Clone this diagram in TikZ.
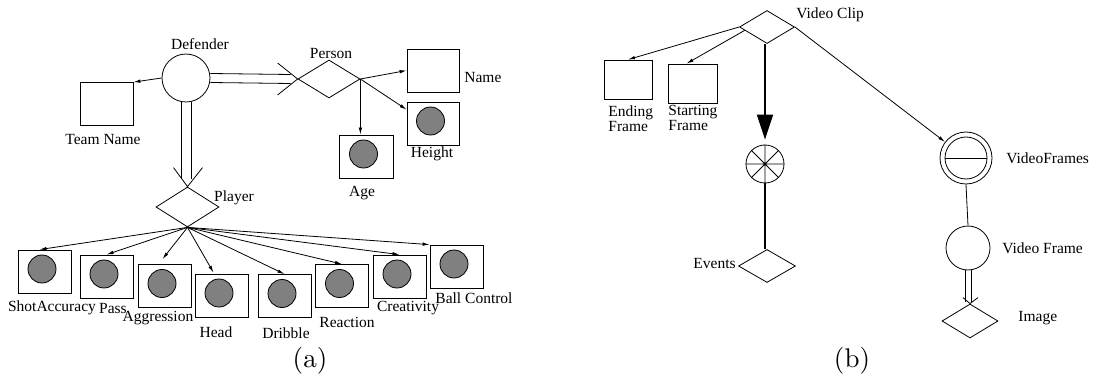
\documentclass[tikz,border=0pt]{standalone}
\usepackage{fontspec}
\newfontfamily\tms{Liberation Serif}
\newfontfamily\lmten{lmroman10-regular.otf}
\usetikzlibrary{shapes.geometric,arrows.meta,calc,backgrounds}
\begin{document}
\begin{tikzpicture}[x=1pt,y=-1pt,line width=0.8pt,
  lbl/.style={font={\tms\fontsize{15.5}{15}\selectfont},inner sep=0pt},
  subcap/.style={font={\lmten\fontsize{27}{27}\selectfont},inner sep=0pt},
  ent/.style={draw,rectangle,minimum width=53pt,minimum height=43pt,inner sep=0pt},
  attr/.style={ent,path picture={\draw[fill=black!50]
      ([xshift=-2.5pt,yshift=2.5pt]path picture bounding box.center) circle (14pt);}},
  rel/.style={draw,diamond,inner sep=0pt},
  arr/.style={-{Latex[length=7pt,width=3.5pt]}}]
\useasboundingbox (0,0) rectangle (1093,385);

% ---------- (a) Defender schema ----------
\node[circle,draw,minimum size=48pt,inner sep=0pt] (def) at (186,78) {};
\node[lbl] (defl) at (200,44) {Defender};
\node[ent] (team) at (106.5,104) {};
\node[lbl] (teaml) at (103,140) {Team Name};

\node[rel,minimum width=62pt,minimum height=38pt] (person) at (329,79) {};
\node[lbl] (personl) at (331,54) {Person};
\node[ent,minimum width=52pt] (name) at (433,70.5) {};
\node[lbl,anchor=west] (namel) at (464,78) {Name};
\node[attr,minimum width=52pt] (height) at (433,123.5) {};
\node[lbl] (heightl) at (432,154) {Height};
\node[attr,minimum width=54pt] (age) at (366,156.5) {};
\node[lbl] (agel) at (362,193) {Age};

\node[rel,minimum width=63pt,minimum height=40pt] (player) at (187.5,207) {};
\node[lbl] (playerl) at (234,198) {Player};

\node[attr] (sa) at (44.5,271.5) {};
\node[attr] (pass) at (106.5,276.5) {};
\node[attr] (agg) at (164.5,286) {};
\node[attr] (head) at (221.5,295.5) {};
\node[attr] (drib) at (284.5,296) {};
\node[attr] (react) at (342,286) {};
\node[attr] (creat) at (399.5,276.5) {};
\node[attr] (ball) at (456.5,266.5) {};
\node[lbl] (sal) at (52,308) {ShotAccuracy};
\node[lbl] (passl) at (113,308) {Pass};
\node[lbl] (aggl) at (158,318) {Aggression};
\node[lbl] (headl) at (216,332) {Head};
\node[lbl] (dribl) at (286,333) {Dribble};
\node[lbl] (reactl) at (347,322) {Reaction};
\node[lbl] (creatl) at (408,308) {Creativity};
\node[lbl] (balll) at (474,298) {Ball Control};

% double (total participation) links with open chevron heads
\draw ($(def.east)+(0,-4.5)$) -- ($(person.west)+(-7,-4.5)$)
      ($(def.east)+(0,4.5)$) -- ($(person.west)+(-7,4.5)$);
\draw (person.west) -- ++(-20,-16) (person.west) -- ++(-20,16);
\draw ($(def.south)+(-5,0)$) -- ($(def.south |- player.north)+(-5,-8)$)
      ($(def.south)+(5,0)$) -- ($(def.south |- player.north)+(5,-8)$);
\draw (player.north) -- ++(-14,-19) (player.north) -- ++(15,-19);

\draw[arr] (def.west) -- (team.north east);
\draw[arr] (person.east) -- (name.west);
\draw[arr] (person.east) -- ($(height.north west)+(0,8)$);
\draw[arr] (person.east) -- (person.east |- age.north);

\draw[arr] (player.south) -- ($(sa.north)+(-5,0)$);
\draw[arr] (player.south) -- (pass.north);
\draw[arr] (player.south) -- ($(agg.north)+(-2,-5)$);
\draw[arr] (player.south) -- ($(head.north)+(-8,-1)$);
\draw[arr] (player.south) -- (drib.north);
\draw[arr] (player.south) -- (react.north);
\draw[arr] (player.south) -- (creat.north);
\draw[arr] (player.south) -- (ball.north west);

\node[subcap] (capa) at (310,361) {(a)};

% ---------- (b) Video clip schema ----------
\node[rel,minimum width=55pt,minimum height=33pt] (clip) at (767,27) {};
\node[lbl,anchor=west] (clipl) at (796,15) {Video Clip};
\node[ent,minimum width=48pt,minimum height=39pt] (endf) at (628,79.5) {};
\node[ent,minimum width=49pt,minimum height=39pt] (startf) at (692.5,83.5) {};
\node[lbl,anchor=north west,align=left] (endfl) at (608,105) {Ending\\Frame};
\node[lbl,anchor=north west,align=left] (startfl) at (668,105) {Starting\\Frame};

\node[circle,draw,minimum size=38pt,inner sep=0pt] (ev) at (765,164) {};
\draw (ev.north) -- (ev.south) (ev.east) -- (ev.west)
      (ev.north east) -- (ev.south west) (ev.north west) -- (ev.south east);
\node[rel,minimum width=57pt,minimum height=33pt] (events) at (767,266) {};
\node[lbl,anchor=east] (eventsl) at (736,264) {Events};

\node[circle,draw,minimum size=52pt,inner sep=0pt,
      path picture={\draw (path picture bounding box.center) circle (21pt);
        \draw ([xshift=-21pt]path picture bounding box.center) -- ([xshift=21pt]path picture bounding box.center);}]
      (vf) at (966,158) {};
\node[lbl,anchor=west] (vfl) at (1006,158) {VideoFrames};
\node[circle,draw,minimum size=44pt,inner sep=0pt] (vfr) at (968,248) {};
\node[lbl,anchor=west] (vfrl) at (1002,248) {Video Frame};
\node[rel,minimum width=56pt,minimum height=34pt] (img) at (970,321) {};
\node[lbl,anchor=west] (imgl) at (1018,318) {Image};

\draw[arr] (clip.west) -- (endf.north);
\draw[arr] ($(clip.west)!0.2!(clip.south)$) -- ($(startf.north)+(-6,0)$);
\draw[line width=2pt,-{Triangle[length=25pt,width=16pt]},shorten >=5pt]
  (ev.north |- clip.south) -- (ev.north);
\draw[line width=1.4pt] (ev.south) -- (ev.south |- events.north);
\draw[arr] (clip.east) -- (vf);
\draw (vf.south) -- (vfr.north);
\draw ($(vfr.south)+(-3,0)$) -- ($(vfr.south |- img.north)+(-3,-2)$)
      ($(vfr.south)+(3,0)$) -- ($(vfr.south |- img.north)+(3,-2)$);
\draw (img.north) -- ++(-7,-6) (img.north) -- ++(8,-6);

\node[subcap] (capb) at (852,361) {(b)};
\end{tikzpicture}
\end{document}
